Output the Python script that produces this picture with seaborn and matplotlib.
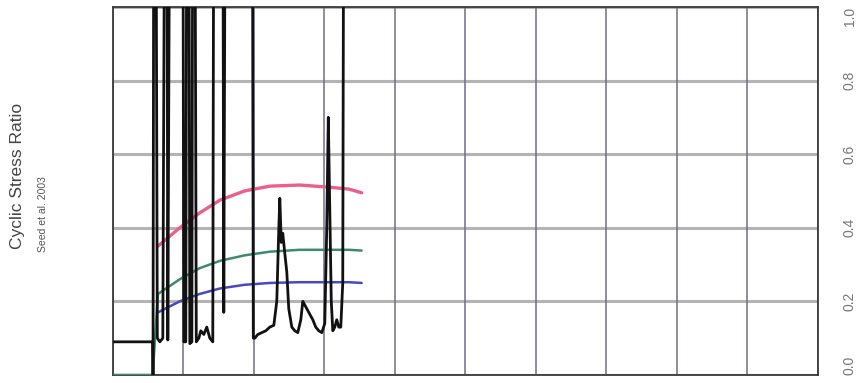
import matplotlib
matplotlib.use("Agg")
import matplotlib.pyplot as plt
import seaborn as sns
import pandas as pd

# ---- data ----
# measured cyclic stress ratio trace (values > 1 run off the top of the chart)
trace_x = [0.0, 0.567, 0.570, 0.582, 0.610, 0.631, 0.667, 0.709, 0.738, 0.766, 0.780, 0.809,
           0.993, 1.007, 1.035, 1.050, 1.078, 1.092, 1.121, 1.135, 1.163, 1.184, 1.220, 1.248,
           1.291, 1.333, 1.376, 1.418, 1.433, 1.560, 1.574, 1.596, 1.979, 1.993, 2.014, 2.057,
           2.113, 2.170, 2.227, 2.284, 2.326, 2.355, 2.369, 2.390, 2.411, 2.440, 2.468, 2.496,
           2.539, 2.582, 2.624, 2.667, 2.695, 2.723, 2.752, 2.794, 2.837, 2.879, 2.922, 2.965,
           3.007, 3.035, 3.057, 3.078, 3.099, 3.121, 3.149, 3.177, 3.206, 3.234, 3.262, 3.277]
trace_y = [0.09, 0.09, 0.0, 1.5, 1.5, 0.10, 0.09, 0.10, 1.5, 1.5, 0.095, 1.5,
           1.5, 0.09, 0.09, 1.5, 1.5, 0.085, 0.09, 1.5, 1.5, 0.09, 0.10, 0.12,
           0.11, 0.13, 0.10, 0.09, 1.5, 1.5, 0.17, 1.5, 1.5, 0.10, 0.10, 0.11,
           0.115, 0.12, 0.13, 0.135, 0.20, 0.40, 0.48, 0.36, 0.385, 0.33, 0.28, 0.18,
           0.13, 0.12, 0.115, 0.15, 0.20, 0.19, 0.18, 0.165, 0.15, 0.13, 0.12, 0.115,
           0.14, 0.40, 0.70, 0.45, 0.20, 0.12, 0.13, 0.15, 0.13, 0.13, 0.25, 1.5]

# Seed et al. (2003) reference curves
curve_x = [0.0, 0.565, 0.64, 0.95, 1.23, 1.52, 1.87, 2.23, 2.65, 3.08, 3.35, 3.53]
pink_y = [None, None, 0.35, 0.40, 0.44, 0.475, 0.50, 0.513, 0.516, 0.51, 0.505, 0.495]
green_y = [0.0, 0.0, 0.22, 0.26, 0.29, 0.31, 0.325, 0.335, 0.34, 0.34, 0.34, 0.338]
blue_y = [None, None, 0.17, 0.20, 0.22, 0.235, 0.245, 0.25, 0.252, 0.252, 0.252, 0.25]

y_ticks = [0.0, 0.2, 0.4, 0.6, 0.8, 1.0]
y_tick_labels = ["0.0", "0.2", "0.4", "0.6", "0.8", "1.0"]
x_grid = list(range(0, 11))

# ---- figure ----
sns.set_theme(style="white")
plt.rcParams["font.family"] = ["Liberation Sans", "DejaVu Sans"]

fig = plt.figure(figsize=(8.68, 3.83), dpi=100)
ax = fig.add_axes([0.130, 0.021, 0.812, 0.961])

trace = pd.DataFrame({"x": trace_x, "y": trace_y})
curves = pd.DataFrame({"x": curve_x, "pink": pink_y, "green": green_y, "blue": blue_y}).astype(float)

sns.lineplot(data=curves, x="x", y="pink", ax=ax, color="#ec5f8a", lw=2.4, sort=False, estimator=None, zorder=3)
sns.lineplot(data=curves, x="x", y="green", ax=ax, color="#3c8a70", lw=1.8, sort=False, estimator=None, zorder=3)
sns.lineplot(data=curves, x="x", y="blue", ax=ax, color="#4848c0", lw=1.8, sort=False, estimator=None, zorder=3)
sns.lineplot(data=trace, x="x", y="y", ax=ax, color="#111111", lw=2.0, sort=False, estimator=None, zorder=4)

ax.set_xlim(0, 10)
ax.set_ylim(0, 1.0)

# grid
for yv in y_ticks:
    ax.axhline(yv, color="#b4b4b4", lw=2.2, zorder=1)
for xv in x_grid:
    ax.axvline(xv, color="#6e6e8c", lw=1.1, zorder=1)

ax.set_xticks(x_grid)
ax.set_xticklabels([])
ax.set_yticks(y_ticks)
ax.set_yticklabels(y_tick_labels)
ax.yaxis.tick_right()
ax.tick_params(axis="y", length=0, pad=18, labelsize=10, labelcolor="#777777", labelrotation=90)
ax.tick_params(axis="x", length=0)
labels = ax.get_yticklabels()
for lab in labels:
    lab.set_va("center")
labels[0].set_va("bottom")
labels[-1].set_va("top")
ax.set_xlabel("")
ax.set_ylabel("")

for s in ax.spines.values():
    s.set_color("#3a3a3a")
    s.set_linewidth(1.3)

fig.text(0.020, 0.54, "Cyclic Stress Ratio", rotation=90, ha="center", va="center",
         fontsize=12.5, color="#444444")
fig.text(0.049, 0.44, "Seed et al. 2003", rotation=90, ha="center", va="center",
         fontsize=7.5, color="#555555")

fig.savefig("out.png", dpi=100)
